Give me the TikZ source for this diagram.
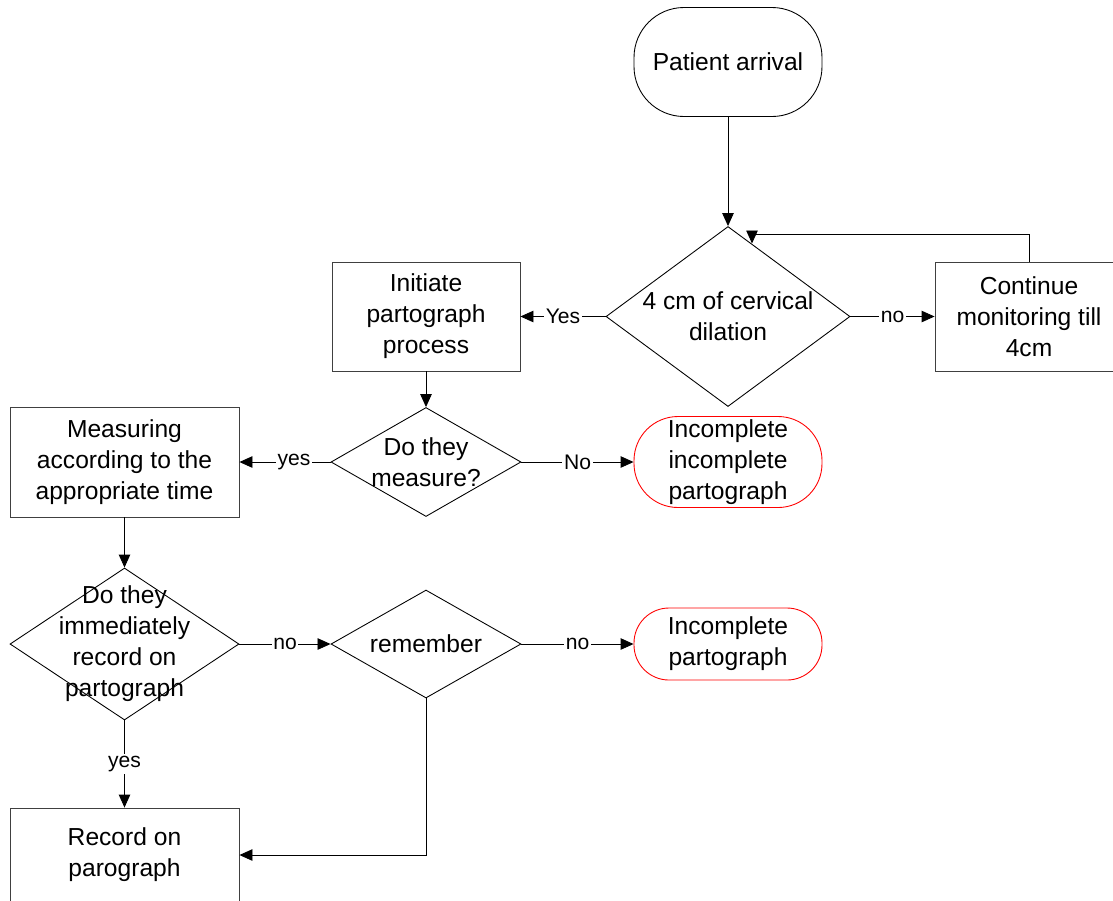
\documentclass[tikz,border=0pt]{standalone}
\usepackage{fontspec}
\setmainfont{Liberation Sans}
\usetikzlibrary{shapes.geometric,arrows.meta}
\begin{document}
\begin{tikzpicture}[
  every node/.style={font=\fontsize{14}{17.6}\selectfont, align=center},
  box/.style={draw=black!75, line width=0.5pt, minimum width=3.76cm, minimum height=2.18cm, inner sep=0pt},
  terminal/.style={draw, line width=0.5pt, minimum width=3.76cm, inner sep=0pt},
  decision/.style={diamond, draw, line width=0.5pt, inner sep=0pt},
  flow/.style={line width=0.5pt, -{Triangle[length=2.6mm,width=2.3mm]}},
  lbl/.style={font=\fontsize{12}{14}\selectfont, fill=white, inner sep=1pt}
]
\useasboundingbox (0,0) rectangle (22.26,-18);
\clip (0,0) rectangle (22.26,-18);

\node[terminal, minimum height=2.18cm, rounded corners=1cm] (arrival) at (14.56,-1.24) {Patient arrival};
\node[decision, minimum width=4.88cm, minimum height=3.6cm, label=center:{4 cm of cervical\\dilation}] (dilation) at (14.56,-6.33) {};
\node[box] (continue) at (20.58,-6.33) {Continue\\monitoring till\\4cm};
\node[box] (initiate) at (8.52,-6.33) {Initiate\\partograph\\process};
\node[decision, minimum width=3.8cm, minimum height=2.18cm, label=center:{Do they\\measure?}] (measure) at (8.52,-9.24) {};
\node[box, minimum width=4.58cm, minimum height=2.2cm] (measuring) at (2.49,-9.24) {Measuring\\according to the\\appropriate time};
\node[terminal, draw=red, minimum height=1.82cm, rounded corners=0.88cm] (incomplete1) at (14.56,-9.24) {Incomplete\\incomplete\\partograph};
\node[decision, minimum width=4.58cm, minimum height=3.04cm, label=center:{Do they\\immediately\\record on\\partograph}] (immediate) at (2.49,-12.88) {};
\node[decision, minimum width=3.8cm, minimum height=2.16cm, label=center:{remember}] (remember) at (8.52,-12.88) {};
\node[terminal, draw=red, minimum height=1.44cm, rounded corners=0.7cm] (incomplete2) at (14.56,-12.88) {Incomplete\\partograph};
\node[box, minimum width=4.58cm, minimum height=1.88cm] (record) at (2.49,-17.1) {Record on\\parograph};
\coordinate (loopend) at (15.04,-4.87);

\draw[flow] (arrival) -- (dilation);
\draw[flow] (continue.north) -- ++(0,0.54) -| (loopend);
\draw[flow] (dilation) -- node[lbl] {Yes} (initiate);
\draw[flow] (dilation) -- node[lbl] {no} (continue);
\draw[flow] (initiate) -- (measure);
\draw[flow] (measure) -- node[lbl, pos=0.4] {yes} (measuring);
\draw[flow] (measure) -- node[lbl] {No} (incomplete1);
\draw[flow] (measuring) -- (immediate);
\draw[flow] (immediate) -- node[lbl] {no} (remember);
\draw[flow] (remember) -- node[lbl] {no} (incomplete2);
\draw[flow] (immediate) -- node[lbl] {yes} (record);
\draw[flow] (remember.south) |- (record.east);
\end{tikzpicture}
\end{document}
